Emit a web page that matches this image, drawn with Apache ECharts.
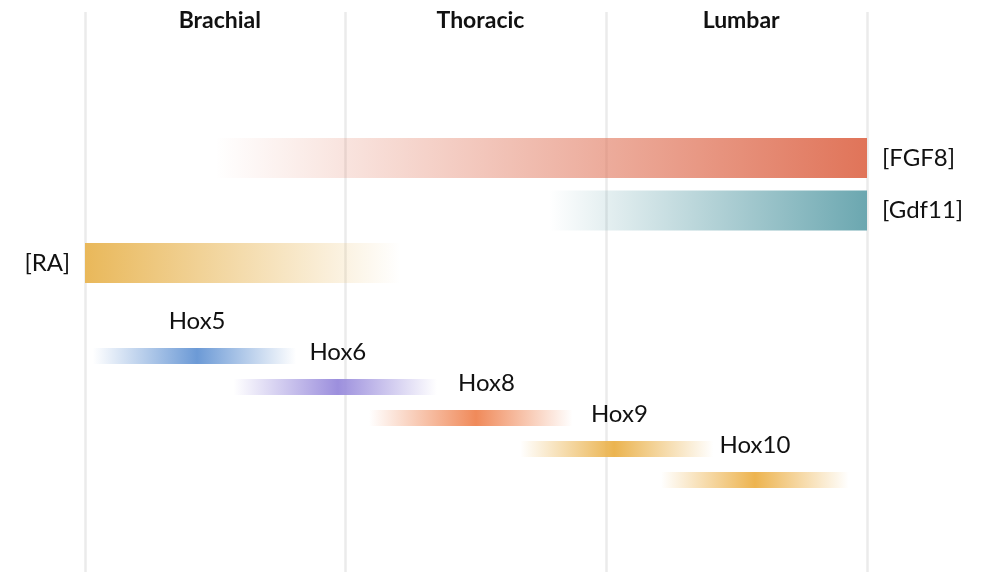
<!DOCTYPE html>
<html>
<head>
<meta charset="utf-8">
<script src="https://cdn.jsdelivr.net/npm/echarts@6/dist/echarts.min.js"></script>
<style>html,body{margin:0;padding:0;background:#fff}#c{width:990px;height:572px}</style>
</head>
<body>
<div id="c"></div>
<script>
// Regions (top labels)
var regions = ['Brachial', 'Thoracic', 'Lumbar'];

// Morphogen gradients (x in segment units, 0..3)
var morphNames = ['[FGF8]', '[Gdf11]', '[RA]'];
var morphStart = [0.5, 1.78, 0];
var morphEnd = [3, 3, 1.21];
var morphAlphaStart = [0, 0, 1];
var morphAlphaEnd = [1, 1, 0];
var morphColors = ['#E07459', '#6BA7B0', '#E9B85A'];
var morphLabelSide = ['right', 'right', 'left'];

// Hox expression domains
var hoxNames = ['Hox5', 'Hox6', 'Hox8', 'Hox9', 'Hox10'];
var hoxStart = [0.03, 0.57, 1.09, 1.67, 2.21];
var hoxPeak = [0.43, 0.97, 1.50, 2.03, 2.57];
var hoxEnd = [0.81, 1.35, 1.87, 2.41, 2.93];
var hoxLabelAt = [0.43, 0.97, 1.54, 2.05, 2.57];
var hoxColors = ['#6C9AD6', '#9C8FDD', '#F08A5A', '#EBB450', '#EDB450'];

var FONT = 'Lato, "Open Sans", sans-serif';

function rgba(hex, a) {
  var n = parseInt(hex.slice(1), 16);
  return 'rgba(' + ((n >> 16) & 255) + ',' + ((n >> 8) & 255) + ',' + (n & 255) + ',' + a + ')';
}

var morphData = morphNames.map(function (n, i) { return [morphStart[i], morphEnd[i], i]; });
var hoxData = hoxNames.map(function (n, i) { return [hoxStart[i], hoxEnd[i], i, hoxPeak[i], hoxLabelAt[i]]; });

var chart = echarts.init(document.getElementById('c'));
var L = 85, R = 123;
chart.setOption({
  animation: false,
  backgroundColor: '#fff',
  grid: [
    { left: L, right: R, top: 12, bottom: 0 },
    { left: L, right: R, top: 131.75, height: 157.5 },
    { left: L, right: R, top: 340.5, height: 155 }
  ],
  xAxis: [
    { gridIndex: 0, type: 'value', min: 0, max: 3, interval: 1,
      axisLine: { show: false }, axisTick: { show: false }, axisLabel: { show: false },
      splitLine: { show: true, lineStyle: { color: '#ebebeb', width: 2.5 } } },
    { gridIndex: 0, type: 'category', data: regions, position: 'top', boundaryGap: true,
      axisLine: { show: false }, axisTick: { show: false }, splitLine: { show: false },
      axisLabel: { inside: true, margin: -3, fontSize: 23, fontWeight: 'bold', color: '#111',
        fontFamily: FONT, padding: [0, 0, 0, 9] } },
    { gridIndex: 1, type: 'value', min: 0, max: 3, show: false },
    { gridIndex: 2, type: 'value', min: 0, max: 3, show: false }
  ],
  yAxis: [
    { gridIndex: 0, type: 'value', show: false, min: 0, max: 1 },
    { gridIndex: 1, type: 'category', data: morphNames, inverse: true, show: false },
    { gridIndex: 2, type: 'category', data: hoxNames, inverse: true, show: false }
  ],
  series: [
    {
      type: 'custom', xAxisIndex: 2, yAxisIndex: 1, data: morphData, clip: false,
      renderItem: function (params, api) {
        var i = api.value(2);
        var p0 = api.coord([api.value(0), i]);
        var p1 = api.coord([api.value(1), i]);
        var h = 40;
        var c = morphColors[i];
        var side = morphLabelSide[i];
        return {
          type: 'group',
          children: [
            { type: 'rect', shape: { x: p0[0], y: p0[1] - h / 2, width: p1[0] - p0[0], height: h },
              style: { fill: new echarts.graphic.LinearGradient(0, 0, 1, 0, [
                { offset: 0, color: rgba(c, morphAlphaStart[i]) },
                { offset: 1, color: rgba(c, morphAlphaEnd[i]) }
              ]) } },
            { type: 'text',
              style: { text: morphNames[i], x: side === 'right' ? p1[0] + 15 : p0[0] - 15, y: p0[1],
                align: side === 'right' ? 'left' : 'right', verticalAlign: 'middle',
                fontSize: 24, fontFamily: FONT, fill: '#111' } }
          ]
        };
      }
    },
    {
      type: 'custom', xAxisIndex: 3, yAxisIndex: 2, data: hoxData, clip: false,
      renderItem: function (params, api) {
        var i = api.value(2);
        var s = api.value(0), e = api.value(1), pk = api.value(3);
        var p0 = api.coord([s, i]);
        var p1 = api.coord([e, i]);
        var pl = api.coord([api.value(4), i]);
        var h = 16;
        var c = hoxColors[i];
        var off = (pk - s) / (e - s);
        return {
          type: 'group',
          children: [
            { type: 'rect', shape: { x: p0[0], y: p0[1] - h / 2, width: p1[0] - p0[0], height: h },
              style: { fill: new echarts.graphic.LinearGradient(0, 0, 1, 0, [
                { offset: 0, color: rgba(c, 0) },
                { offset: off, color: rgba(c, 1) },
                { offset: 1, color: rgba(c, 0) }
              ]) } },
            { type: 'text',
              style: { text: hoxNames[i], x: pl[0], y: p0[1] - 35,
                align: 'center', verticalAlign: 'middle',
                fontSize: 24, fontFamily: FONT, fill: '#111' } }
          ]
        };
      }
    }
  ]
});
</script>
</body>
</html>
